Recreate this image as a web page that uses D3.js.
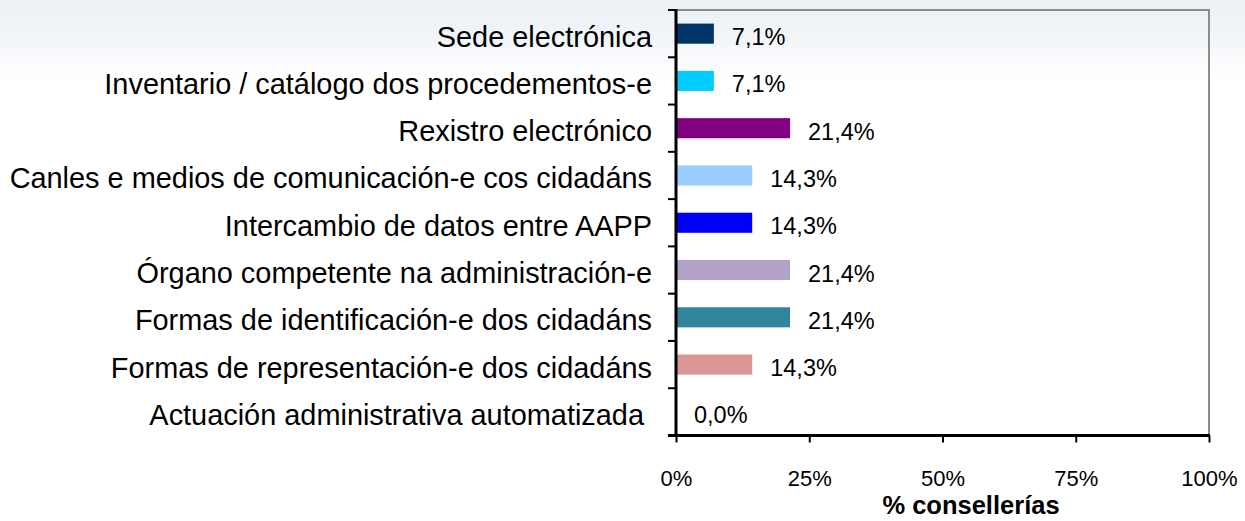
<!DOCTYPE html>
<html>
<head>
<meta charset="utf-8">
<script src="https://cdn.jsdelivr.net/npm/d3@7"></script>
<style>
  html, body { margin: 0; padding: 0; background: #fff; overflow: hidden; }
  svg { display: block; font-family: Arial, "Liberation Sans", sans-serif; }
</style>
</head>
<body>
<svg id="chart" width="1245" height="521"></svg>
<script>
// Categories, top to bottom
const categories = [
  "Sede electrónica",
  "Inventario / catálogo dos procedementos-e",
  "Rexistro electrónico",
  "Canles e medios de comunicación-e cos cidadáns",
  "Intercambio de datos entre AAPP",
  "Órgano competente na administración-e",
  "Formas de identificación-e dos cidadáns",
  "Formas de representación-e dos cidadáns",
  "Actuación administrativa automatizada "
];
// Share of consellerías (%)
const values = [7.1, 7.1, 21.4, 14.3, 14.3, 21.4, 21.4, 14.3, 0.0];
const colors = ["#003366", "#00CCFF", "#800080", "#99CCFF", "#0000FF", "#B3A2C7", "#31859C", "#D99694", "#808080"];
const tickValues = [0, 25, 50, 75, 100];
const axisTitle = "% consellerías";

const svg = d3.select("#chart");
const W = 1245, H = 521;
const plot = { left: 676, right: 1209, top: 10, bottom: 435.5 };

// soft header gradient in the background
const defs = svg.append("defs");
const grad = defs.append("linearGradient").attr("id", "bg").attr("x1", 0).attr("y1", 0).attr("x2", 0).attr("y2", 1);
grad.append("stop").attr("offset", "0%").attr("stop-color", "#eaf0f5");
grad.append("stop").attr("offset", "8%").attr("stop-color", "#f3f6f9");
grad.append("stop").attr("offset", "15%").attr("stop-color", "#ffffff");
grad.append("stop").attr("offset", "100%").attr("stop-color", "#ffffff");
svg.append("rect").attr("width", W).attr("height", H).attr("fill", "url(#bg)");

const x = d3.scaleLinear().domain([0, 100]).range([plot.left, plot.right]);
const y = d3.scaleBand().domain(categories).range([plot.top, plot.bottom]).paddingInner(0.575).paddingOuter(0.2875);
const band = d3.scaleBand().domain(categories).range([plot.top, plot.bottom]);

// plot frame: grey top and right edges
svg.append("path")
  .attr("d", `M${plot.left},${plot.top}H${plot.right}V${plot.bottom}`)
  .attr("fill", "none").attr("stroke", "#8c8c8c").attr("stroke-width", 2);

// bars
svg.append("g").selectAll("rect").data(values).join("rect")
  .attr("x", x(0))
  .attr("y", (d, i) => y(categories[i]))
  .attr("width", d => x(d) - x(0))
  .attr("height", y.bandwidth())
  .attr("fill", (d, i) => colors[i]);

// value labels
svg.append("g").selectAll("text").data(values).join("text")
  .attr("x", d => x(d) + 18)
  .attr("y", (d, i) => band(categories[i]) + band.bandwidth() / 2 + 11.5)
  .attr("font-size", 23.5)
  .attr("fill", "#000")
  .text(d => d3.format(".1f")(d).replace(".", ",") + "%");

// left axis: separators between categories
const boundaries = d3.range(categories.length + 1).map(i => plot.top + i * band.step());
svg.append("g").selectAll("line").data(boundaries).join("line")
  .attr("x1", plot.left - 8).attr("x2", plot.left)
  .attr("y1", d => d).attr("y2", d => d)
  .attr("stroke", "#000").attr("stroke-width", 2);
svg.append("line")
  .attr("x1", plot.left).attr("x2", plot.left)
  .attr("y1", plot.top - 1).attr("y2", plot.bottom + 1.5)
  .attr("stroke", "#000").attr("stroke-width", 3);

// category labels
svg.append("g").selectAll("text").data(categories).join("text")
  .attr("x", 652)
  .attr("y", d => band(d) + band.bandwidth() / 2 + 13)
  .attr("text-anchor", "end")
  .attr("font-size", 28.9)
  .attr("fill", "#000")
  .style("white-space", "pre")
  .text(d => d);

// bottom axis
const xAxis = d3.axisBottom(x).tickValues(tickValues).tickSize(7).tickPadding(28).tickFormat(d => d + "%");
const gx = svg.append("g").attr("transform", `translate(0,${plot.bottom})`).call(xAxis);
gx.select(".domain").remove();
gx.selectAll(".tick line").attr("stroke", "#000").attr("stroke-width", 2);
gx.selectAll(".tick text").attr("font-size", 22).attr("fill", "#000").attr("font-family", "Arial, 'Liberation Sans', sans-serif");
svg.append("line")
  .attr("x1", plot.left - 8).attr("x2", plot.right + 1)
  .attr("y1", plot.bottom).attr("y2", plot.bottom)
  .attr("stroke", "#000").attr("stroke-width", 3);

// axis title
svg.append("text")
  .attr("x", 971)
  .attr("y", 514)
  .attr("text-anchor", "middle")
  .attr("font-size", 25.5)
  .attr("font-weight", "bold")
  .attr("fill", "#000")
  .text(axisTitle);
</script>
</body>
</html>
